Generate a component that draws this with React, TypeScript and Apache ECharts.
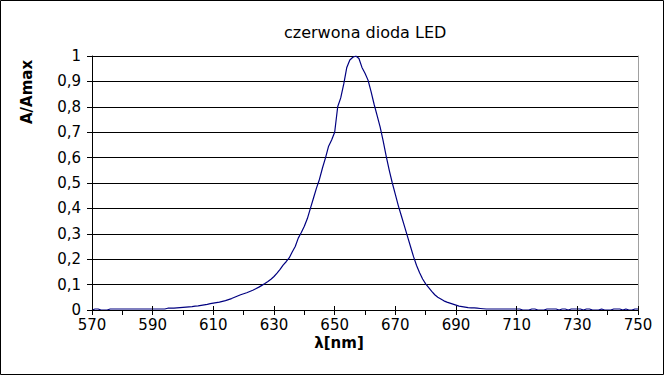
import React, { useEffect, useRef } from "react";
import * as echarts from "echarts";

const TITLE = "czerwona dioda LED";
const X_NAME = "λ[nm]";
const Y_NAME = "A/Amax";
const X_START = 570;
const X_MIN = 570;
const X_MAX = 750;
const Y_MIN = 0;
const Y_MAX = 1;

// relative absorbance, one value per nm from 570 nm to 750 nm
const values570: number[] = [0, 0.004, 0.004, 0, 0, 0, 0.004, 0.004, 0.004, 0.004];
const values580: number[] = [0.004, 0.004, 0.004, 0.004, 0.004, 0.004, 0.004, 0.004, 0.004, 0.004];
const values590: number[] = [0.004, 0.004, 0.004, 0.004, 0.004, 0.007, 0.007, 0.007, 0.008, 0.009];
const values600: number[] = [0.010, 0.011, 0.012, 0.013, 0.015, 0.016, 0.018, 0.020, 0.022, 0.025];
const values610: number[] = [0.027, 0.029, 0.031, 0.034, 0.037, 0.041, 0.045, 0.050, 0.055, 0.060];
const values620: number[] = [0.064, 0.068, 0.073, 0.078, 0.084, 0.090, 0.097, 0.104, 0.112, 0.121];
const values630: number[] = [0.132, 0.145, 0.160, 0.177, 0.190, 0.205, 0.228, 0.250, 0.283, 0.305];
const values640: number[] = [0.330, 0.360, 0.400, 0.440, 0.480, 0.515, 0.560, 0.600, 0.645, 0.669];
const values650: number[] = [0.700, 0.800, 0.835, 0.890, 0.955, 0.984, 0.995, 1.000, 0.990, 0.955];
const values660: number[] = [0.932, 0.905, 0.860, 0.810, 0.765, 0.720, 0.665, 0.605, 0.550, 0.500];
const values670: number[] = [0.455, 0.410, 0.370, 0.330, 0.290, 0.250, 0.210, 0.175, 0.147, 0.122];
const values680: number[] = [0.103, 0.088, 0.073, 0.060, 0.050, 0.043, 0.036, 0.031, 0.027, 0.023];
const values690: number[] = [0.019, 0.015, 0.013, 0.011, 0.009, 0.008, 0.008, 0.007, 0.006, 0.005];
const values700: number[] = [0.004, 0.004, 0.004, 0.004, 0.004, 0.004, 0.004, 0.004, 0.004, 0.004];
const values710: number[] = [0.004, 0.004, 0, 0, 0, 0.004, 0.004, 0, 0, 0];
const values720: number[] = [0.004, 0.004, 0.004, 0.004, 0, 0.004, 0.004, 0, 0.004, 0.004];
const values730: number[] = [0.004, 0.004, 0, 0.004, 0.004, 0, 0, 0, 0.004, 0];
const values740: number[] = [0, 0, 0.004, 0.004, 0.004, 0, 0.004, 0, 0, 0.004];
const values750: number[] = [0.004];

const allValues: number[] = [
  ...values570, ...values580, ...values590, ...values600, ...values610,
  ...values620, ...values630, ...values640, ...values650, ...values660,
  ...values670, ...values680, ...values690, ...values700, ...values710,
  ...values720, ...values730, ...values740, ...values750,
];

const FONT = "DejaVu Sans";

export default function App() {
  const ref = useRef<HTMLDivElement>(null);

  useEffect(() => {
    if (!ref.current) return;
    const chart = echarts.init(ref.current, undefined, { renderer: "svg" });
    const data = allValues.map((v, i) => [X_START + i, v]);

    chart.setOption({
      animation: false,
      backgroundColor: "#ffffff",
      title: {
        text: TITLE,
        left: 279,
        top: 19,
        textStyle: { fontFamily: FONT, fontSize: 16, fontWeight: "normal", color: "#000" },
      },
      grid: { left: 92, right: 27, top: 56, bottom: 66 },
      xAxis: [
        {
          type: "value",
          min: X_MIN,
          max: X_MAX,
          interval: 10,
          z: 3,
          axisLine: { lineStyle: { color: "#000", width: 1 } },
          axisTick: { show: true, length: 5, inside: false, lineStyle: { color: "#000" } },
          axisLabel: {
            margin: 7,
            color: "#000",
            fontFamily: FONT,
            fontSize: 15,
            lineHeight: 15,
            formatter: (v: number) => ((v - X_MIN) % 20 === 0 ? String(v) : ""),
          },
          splitLine: { show: false },
        },
        {
          type: "value",
          min: X_MIN,
          max: X_MAX,
          interval: 20,
          position: "bottom",
          z: 3,
          axisLine: { show: false },
          axisTick: { show: true, length: 4, inside: true, lineStyle: { color: "#000" } },
          axisLabel: { show: false },
          splitLine: { show: false },
        },
      ],
      yAxis: [
        {
          type: "value",
          min: Y_MIN,
          max: Y_MAX,
          interval: 0.1,
          axisLine: { show: true, lineStyle: { color: "#000", width: 1 } },
          axisTick: { show: true, length: 5, inside: false, lineStyle: { color: "#000" } },
          axisLabel: {
            margin: 11,
            color: "#000",
            fontFamily: FONT,
            fontSize: 15,
            formatter: (v: number) => String(Number(v.toFixed(1))).replace(".", ","),
          },
          splitLine: { show: true, lineStyle: { color: "#000", width: 1 } },
        },
        {
          type: "value",
          min: Y_MIN,
          max: Y_MAX,
          position: "right",
          axisLine: { show: true, lineStyle: { color: "#a0a0a0", width: 1 } },
          axisTick: { show: false },
          axisLabel: { show: false },
          splitLine: { show: false },
        },
      ],
      series: [
        {
          type: "line",
          xAxisIndex: 0,
          yAxisIndex: 0,
          data,
          showSymbol: false,
          symbol: "none",
          z: 2,
          lineStyle: { color: "#000080", width: 1.2 },
        },
      ],
      graphic: [
        {
          type: "rect",
          shape: { x: 0.5, y: 0.5, width: 663, height: 374 },
          style: { fill: "none", stroke: "#000", lineWidth: 1 },
          silent: true,
        },
        {
          type: "text",
          x: 27,
          y: 92,
          rotation: Math.PI / 2,
          style: {
            text: Y_NAME,
            fontFamily: FONT,
            fontSize: 15,
            fontWeight: "bold",
            fill: "#000",
            align: "center",
            verticalAlign: "middle",
          },
        },
        {
          type: "text",
          x: 339,
          y: 343,
          style: {
            text: X_NAME,
            fontFamily: FONT,
            fontSize: 15,
            lineHeight: 15,
            fontWeight: "bold",
            fill: "#000",
            align: "center",
            verticalAlign: "middle",
          },
        },
      ],
    });

    return () => chart.dispose();
  }, []);

  return (
    <div
      ref={ref}
      style={{ position: "fixed", left: 0, top: 0, width: 665, height: 376 }}
    />
  );
}
